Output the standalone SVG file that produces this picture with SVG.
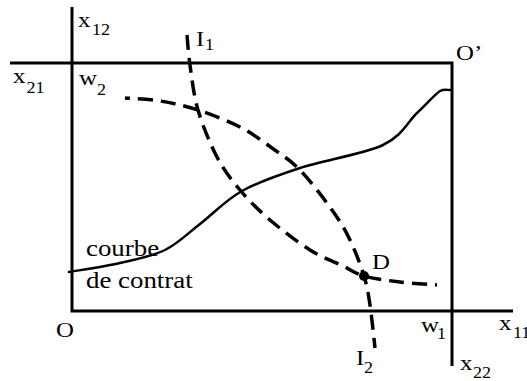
<svg xmlns="http://www.w3.org/2000/svg" width="527" height="381" viewBox="0 0 527 381">
<style>
.ax{fill:none;stroke:#000;stroke-width:3;stroke-linejoin:miter}
.cc{fill:none;stroke:#000;stroke-width:2.5;stroke-linecap:round}
.ic{fill:none;stroke:#000;stroke-width:3.5;stroke-dasharray:15 8}
text{fill:#000;font-family:Liberation Serif,Tinos,Times New Roman,Noto Serif,DejaVu Serif,serif}
.t{font-size:22px}
.s{font-size:16px}
.c{font-size:24px}
</style>
<rect width="527" height="381" fill="#fff"/>
<g id="axes">
<path class="ax" d="M72,7 V311 H513"/>
<path class="ax" d="M10,63 H452 V366"/>
</g>
<g id="connectors">
<path id="contract" class="cc" d="M69,272 C77.5,270.5 104,266.7 120,263 C136,259.3 151.7,256.5 165,250 C178.3,243.5 187.2,233.8 200,224 C212.8,214.2 225.3,200.3 242,191 C258.7,181.7 276.5,175.7 300,168 C323.5,160.3 363.5,154.2 383,145 C402.5,135.8 407.5,122 417,113 C426.5,104 434.5,94.8 440,91 C444,89 447,90 450,90"/>
<path id="I1" class="ic" d="M187,35 C187.5,40 188.2,52.5 190,65 C191.8,77.5 193.5,94.7 198,110 C202.5,125.3 210,143.7 217,157 C224,170.3 231.2,179.5 240,190 C248.8,200.5 258.3,210 270,220 C281.7,230 297.8,242.3 310,250 C322.2,257.7 334,261.7 343,266 C352,270.3 354.5,273.3 364,276 C373.5,278.7 387.8,280.5 400,282 C412.2,283.5 430.8,284.5 437,285"/>
<path id="I2" class="ic" stroke-dashoffset="10" d="M125,98 C130.8,98.5 147.8,99 160,101 C172.2,103 184.7,105.7 198,110 C211.3,114.3 227.7,120.7 240,127 C252.3,133.3 262,140.8 272,148 C282,155.2 290,159.7 300,170 C310,180.3 323.7,198.3 332,210 C340.3,221.7 344.7,229 350,240 C355.3,251 360.7,265.2 364,276 C367.3,286.8 368.2,293 370,305 C371.8,317 374.2,340.8 375,348"/>
</g>
<g id="labels">
<g id="D">
<circle cx="364" cy="276" r="5" fill="#000"/>
<text class="t" transform="translate(372,269) scale(1.13,1)">D</text>
</g>
<text class="t" transform="translate(78,27) scale(1.13,1)">x</text>
<text class="s" transform="translate(92,35) scale(1.13,1)">12</text>
<text class="t" transform="translate(196,46) scale(1.13,1)">I</text>
<text class="s" transform="translate(205,50) scale(1.13,1)">1</text>
<text class="t" transform="translate(13,83) scale(1.13,1)">x</text>
<text class="s" transform="translate(26.5,93) scale(1.13,1)">21</text>
<text class="t" transform="translate(79,85) scale(1.13,1)">w</text>
<text class="s" transform="translate(97,95) scale(1.13,1)">2</text>
<text class="t" transform="translate(456,60) scale(1.13,1)">O’</text>
<text class="t" transform="translate(56,337) scale(1.13,1)">O</text>
<text class="t" transform="translate(421,332) scale(1.13,1)">w</text>
<text class="s" transform="translate(437,339) scale(1.13,1)">1</text>
<text class="t" transform="translate(499,330) scale(1.13,1)">x</text>
<text class="s" transform="translate(513,338) scale(1.13,1)">11</text>
<text class="t" transform="translate(356,365) scale(1.13,1)">I</text>
<text class="s" transform="translate(364,373) scale(1.13,1)">2</text>
<text class="t" transform="translate(460,370) scale(1.13,1)">x</text>
<text class="s" transform="translate(473,378) scale(1.13,1)">22</text>
<text class="c" transform="translate(86,256) scale(1.12,1)">courbe</text>
<text class="c" transform="translate(86,288) scale(1.12,1)">de contrat</text>
</g>
</svg>
